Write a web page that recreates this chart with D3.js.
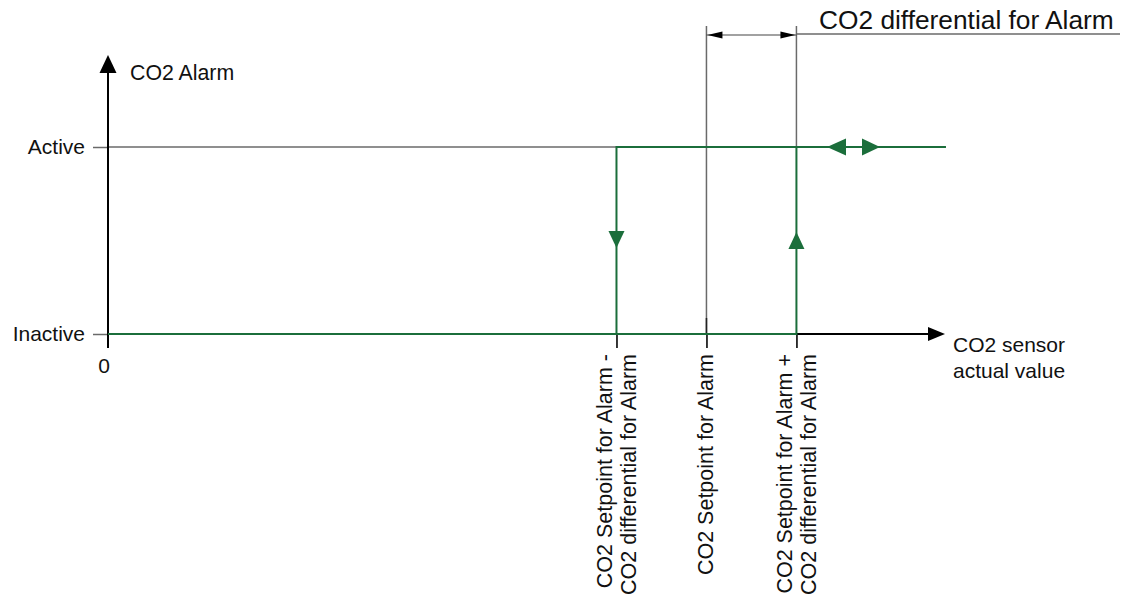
<!DOCTYPE html>
<html>
<head>
<meta charset="utf-8">
<script src="https://cdn.jsdelivr.net/npm/d3@7"></script>
<style>
  html, body { margin: 0; padding: 0; background: #fff; }
  svg { display: block; font-family: "Liberation Sans", Arial, sans-serif; }
</style>
</head>
<body>
<svg id="chart" width="1123" height="601"></svg>
<script>
// ---- data ----
const xDomain = [0, 1000];
const setpoint = 715;
const differential = 107.5;
const xEnd = 1001;                       // end of the green "Active" line
const states = ["Inactive", "Active"];   // y tick labels
const stateValues = [0, 1];
const xTickValues = [setpoint - differential, setpoint, setpoint + differential];
const xTickLabels = [
  ["CO2 Setpoint for Alarm -", "CO2 differential for Alarm"],
  ["CO2 Setpoint for Alarm"],
  ["CO2 Setpoint for Alarm +", "CO2 differential for Alarm"]
];
const yTitle = "CO2 Alarm";
const xTitle = ["CO2 sensor", "actual value"];
const diffTitle = "CO2 differential for Alarm";
// hysteresis paths (x value, state)
const pathOn  = [[0, 0], [setpoint + differential, 0], [setpoint + differential, 1], [xEnd, 1]];
const pathOff = [[xEnd, 1], [setpoint - differential, 1], [setpoint - differential, 0]];

// ---- layout ----
const green = "#1b6e3b";
const gray = "#6a6a6a";
const svg = d3.select("#chart");
const x = d3.scaleLinear().domain(xDomain).range([108, 945]);
const y = d3.scaleLinear().domain([0, 1]).range([334, 147]);
const fs = 21;
const fsRot = 21.5;

// y axis with ticks + labels
const yAx = svg.append("g").attr("transform", `translate(${x(0)},0)`)
  .call(d3.axisLeft(y).tickValues(stateValues).tickFormat(d => states[d]).tickSize(15).tickPadding(8));
yAx.select(".domain").remove();
yAx.selectAll(".tick line").attr("stroke", gray).attr("stroke-width", 1.5);
yAx.selectAll(".tick text").attr("font-size", fs).attr("fill", "#111").attr("font-family", "Liberation Sans, Arial, sans-serif");

// gray "Active" grid line
svg.append("line").attr("x1", x(0)).attr("x2", x(setpoint - differential))
  .attr("y1", y(1)).attr("y2", y(1)).attr("stroke", gray).attr("stroke-width", 1.5);

// extension lines for the differential dimension
svg.append("line").attr("x1", x(setpoint)).attr("x2", x(setpoint))
  .attr("y1", 26).attr("y2", y(0) - 16).attr("stroke", gray).attr("stroke-width", 1.5);
svg.append("line").attr("x1", x(setpoint + differential)).attr("x2", x(setpoint + differential))
  .attr("y1", 26).attr("y2", y(1)).attr("stroke", gray).attr("stroke-width", 1.5);

// x axis ticks (below axis)
const xAx = svg.append("g").attr("transform", `translate(0,${y(0)})`)
  .call(d3.axisBottom(x).tickValues(xTickValues).tickSize(14).tickFormat(""));
xAx.select(".domain").remove();
xAx.selectAll(".tick line").attr("stroke", "#222").attr("stroke-width", 1.8);
// setpoint tick crosses the axis
svg.append("line").attr("x1", x(setpoint)).attr("x2", x(setpoint))
  .attr("y1", y(0) - 16).attr("y2", y(0)).attr("stroke", "#222").attr("stroke-width", 1.8);

// x axis line + arrow
svg.append("line").attr("x1", x(0)).attr("x2", x(1000) - 14)
  .attr("y1", y(0)).attr("y2", y(0)).attr("stroke", "#000").attr("stroke-width", 2);
svg.append("path")
  .attr("d", `M${x(1000)},${y(0)} L${x(1000) - 17},${y(0) - 7} L${x(1000) - 17},${y(0) + 7} Z`)
  .attr("fill", "#000");

// y axis line + arrow
svg.append("line").attr("x1", x(0)).attr("x2", x(0))
  .attr("y1", y(0) + 14).attr("y2", 70).attr("stroke", "#000").attr("stroke-width", 2);
svg.append("path")
  .attr("d", `M${x(0)},55 L${x(0) - 8.5},73 L${x(0) + 8.5},73 Z`).attr("fill", "#000");

// green hysteresis lines
const line = d3.line().x(d => x(d[0])).y(d => y(d[1]));
svg.append("path").attr("d", line(pathOn)).attr("fill", "none").attr("stroke", green).attr("stroke-width", 2);
svg.append("path").attr("d", line(pathOff)).attr("fill", "none").attr("stroke", green).attr("stroke-width", 2);

// direction triangles
const xl = x(setpoint - differential), xr = x(setpoint + differential);
svg.append("path").attr("d", `M${xl - 8},231 L${xl + 8},231 L${xl},248 Z`).attr("fill", green);
svg.append("path").attr("d", `M${xr - 8},249 L${xr + 8},249 L${xr},232 Z`).attr("fill", green);
// double arrow on active line
const ya = y(1);
svg.append("path").attr("d", `M827,${ya} L846,${ya - 8.5} L846,${ya + 8.5} Z`).attr("fill", green);
svg.append("path").attr("d", `M880,${ya} L862,${ya - 8.5} L862,${ya + 8.5} Z`).attr("fill", green);

// dimension line with arrows
const xs = x(setpoint), xsd = x(setpoint + differential), yd = 35;
svg.append("line").attr("x1", xs).attr("x2", xsd).attr("y1", yd).attr("y2", yd)
  .attr("stroke", "#444").attr("stroke-width", 1.2);
svg.append("path").attr("d", `M${xs + 1},${yd} L${xs + 16},${yd - 3.5} L${xs + 16},${yd + 3.5} Z`).attr("fill", "#000");
svg.append("path").attr("d", `M${xsd - 1},${yd} L${xsd - 16},${yd - 3.5} L${xsd - 16},${yd + 3.5} Z`).attr("fill", "#000");
// leader line under the title
svg.append("line").attr("x1", xsd).attr("x2", 1120).attr("y1", 34).attr("y2", 34)
  .attr("stroke", gray).attr("stroke-width", 1.5);
svg.append("text").attr("x", 819).attr("y", 29).attr("font-size", 26.3).attr("fill", "#111").text(diffTitle);

// axis titles
svg.append("text").attr("x", 130).attr("y", 80).attr("font-size", 21.3).attr("fill", "#111").text(yTitle);
svg.append("text").attr("x", x(0) - 4).attr("y", 373).attr("text-anchor", "middle").attr("font-size", fs).attr("fill", "#111").text("0");
xTitle.forEach((t, i) => {
  svg.append("text").attr("x", 953).attr("y", 352 + i * 26).attr("font-size", fs).attr("fill", "#111").text(t);
});

// rotated x tick labels
xTickValues.forEach((v, i) => {
  const lines = xTickLabels[i];
  const offsets = lines.length === 2 ? [-4, 20] : [7];
  lines.forEach((t, j) => {
    const bx = x(v) + offsets[j];
    svg.append("text")
      .attr("transform", `translate(${bx},354) rotate(-90)`)
      .attr("text-anchor", "end").attr("font-size", fsRot).attr("fill", "#111").text(t);
  });
});
</script>
</body>
</html>
